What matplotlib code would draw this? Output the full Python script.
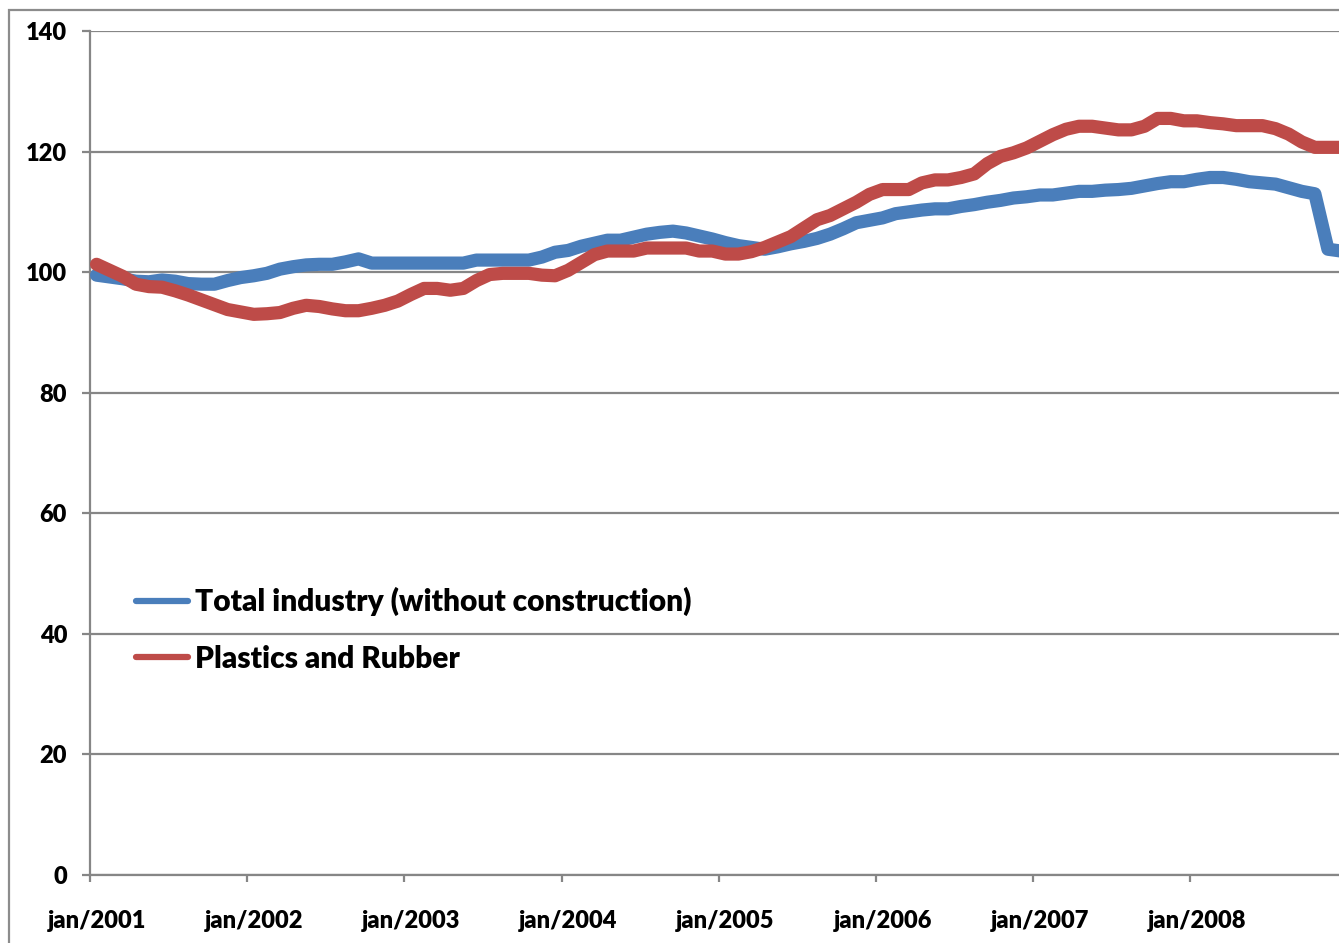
import matplotlib
matplotlib.use("Agg")
import matplotlib.pyplot as plt
from matplotlib.patches import Rectangle
import numpy as np

plt.rcParams['font.family'] = ['Lato', 'DejaVu Sans']

# monthly index values, jan/2001 .. dec/2008
total_industry = [
    99.5, 99.2, 98.9, 98.5, 98.4, 98.7, 98.5, 98.1, 98.0, 98.0, 98.6, 99.1,
    99.4, 99.8, 100.5, 100.9, 101.2, 101.3, 101.3, 101.7, 102.2, 101.5, 101.5, 101.5,
    101.5, 101.5, 101.5, 101.5, 101.5, 102.0, 102.0, 102.0, 102.0, 102.0, 102.5, 103.3,
    103.6, 104.3, 104.8, 105.3, 105.3, 105.8, 106.3, 106.6, 106.8, 106.5, 106.0, 105.5,
    104.9, 104.4, 104.1, 103.8, 104.2, 104.7, 105.1, 105.6, 106.3, 107.2, 108.2, 108.6,
    109.0, 109.7, 110.0, 110.3, 110.5, 110.5, 110.9, 111.2, 111.6, 111.9, 112.3, 112.5,
    112.8, 112.8, 113.1, 113.4, 113.4, 113.6, 113.7, 113.9, 114.3, 114.7, 115.0, 115.0,
    115.4, 115.7, 115.7, 115.4, 115.0, 114.8, 114.6, 114.0, 113.4, 113.0, 103.8, 103.5,
]
plastics_rubber = [
    101.3, 100.3, 99.3, 98.0, 97.6, 97.5, 96.9, 96.2, 95.4, 94.6, 93.8, 93.4,
    93.0, 93.1, 93.3, 94.0, 94.5, 94.3, 93.9, 93.6, 93.6, 94.0, 94.5, 95.2,
    96.3, 97.3, 97.3, 97.0, 97.3, 98.6, 99.6, 99.8, 99.8, 99.8, 99.5, 99.4,
    100.3, 101.6, 102.9, 103.5, 103.5, 103.5, 104.0, 104.0, 104.0, 104.0, 103.5, 103.5,
    103.0, 103.0, 103.4, 104.1, 105.0, 105.9, 107.3, 108.7, 109.4, 110.5, 111.6, 112.9,
    113.7, 113.7, 113.7, 114.8, 115.3, 115.3, 115.7, 116.3, 118.0, 119.2, 119.8, 120.6,
    121.7, 122.8, 123.7, 124.2, 124.2, 123.9, 123.6, 123.6, 124.2, 125.5, 125.5, 125.1,
    125.1, 124.8, 124.6, 124.3, 124.3, 124.3, 123.8, 122.9, 121.6, 120.7, 120.7, 120.7,
]
year_labels = ["jan/2001", "jan/2002", "jan/2003", "jan/2004",
               "jan/2005", "jan/2006", "jan/2007", "jan/2008"]
series_names = ["Total industry (without construction)", "Plastics and Rubber"]

months = np.arange(len(total_industry)) + 0.5

fig = plt.figure(figsize=(13.39, 9.43), dpi=100)
ax = fig.add_axes([90 / 1339, 1 - 875 / 943, 1 - 90 / 1339, (875 - 31) / 943])

grid_c = "#868686"
ax.plot(months, total_industry, color="#4A7EBB", lw=9.5, solid_capstyle="round",
        solid_joinstyle="round", label=series_names[0], zorder=3)
ax.plot(months, plastics_rubber, color="#BE4B48", lw=9.5, solid_capstyle="round",
        solid_joinstyle="round", label=series_names[1], zorder=3)

ax.set_xlim(0, (1339 - 90) / 13.1)
ax.set_ylim(0, 140)
ax.set_yticks(range(0, 141, 20))
# tick marks at year boundaries, labels under the january point
ax.set_xticks(range(0, 96, 12), minor=True)
ax.set_xticks(np.arange(0, 96, 12) + 0.5)
ax.set_xticklabels(year_labels)
ax.yaxis.grid(True, color=grid_c, lw=1.6)
ax.set_axisbelow(True)

for s in ["top", "right"]:
    ax.spines[s].set_visible(False)
for s in ["left", "bottom"]:
    ax.spines[s].set_color(grid_c)
    ax.spines[s].set_linewidth(1.6)

ax.tick_params(axis="y", length=6, width=1.6, color=grid_c, pad=10.5,
               labelsize=17)
ax.tick_params(axis="x", which="major", length=0, pad=25, labelsize=17)
ax.tick_params(axis="x", which="minor", length=5, width=1.6, color=grid_c)
for lab in ax.get_xticklabels() + ax.get_yticklabels():
    lab.set_fontweight("heavy")

leg = ax.legend(loc="upper left", bbox_to_anchor=(0.037, 0.341), frameon=False,
                prop={"weight": "heavy", "size": 21.5}, handlelength=1.75,
                handletextpad=0.22, labelspacing=0.95, borderpad=0,
                borderaxespad=0)
for line in leg.get_lines():
    line.set_linewidth(4.5)
    line.set_solid_capstyle("round")

# chart area border
fig.patches.append(Rectangle((9 / 1339, -0.1), 1.2, 1 - 10 / 943 + 0.1,
                             transform=fig.transFigure, fill=False,
                             edgecolor="#8c8c8c", lw=1.6))

fig.savefig("out.png", dpi=100)
